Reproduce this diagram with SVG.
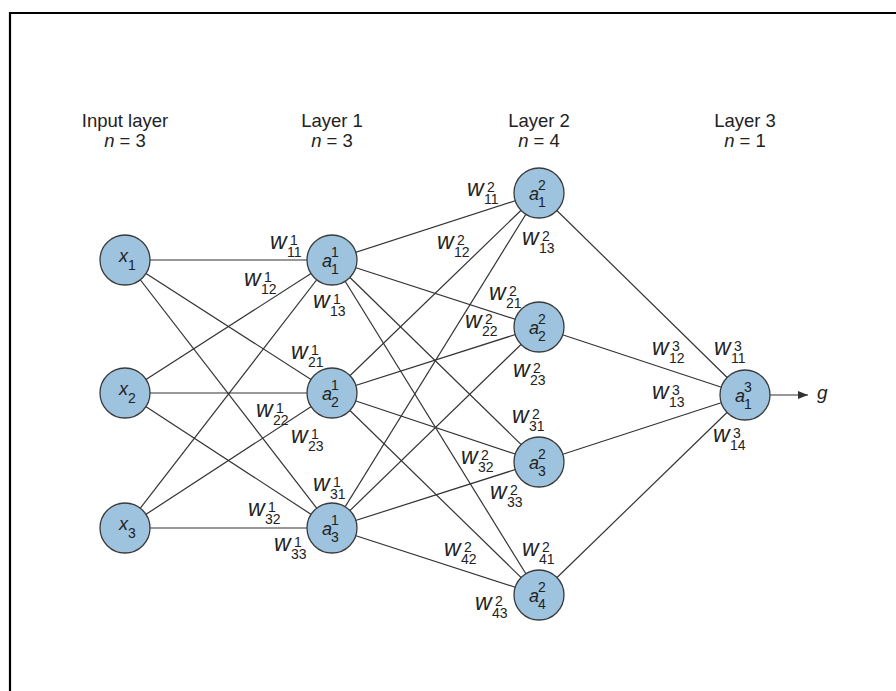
<svg xmlns="http://www.w3.org/2000/svg" width="896" height="691" viewBox="0 0 896 691">
  <style>
    .frame { fill: none; stroke: #000; stroke-width: 2.2; }
    .head { font-family: "Liberation Sans", Arial, sans-serif; font-size: 18.5px; fill: #222; text-anchor: middle; }
    .it { font-style: italic; }
    .node circle { fill: #9dc3de; stroke: #3a3a3a; stroke-width: 1.3; }
    .node text { font-family: "Liberation Sans", Arial, sans-serif; fill: #222; }
    .nl { font-size: 18px; font-style: italic; }
    .ns { font-size: 14px; }
    .edges line { stroke: #333; stroke-width: 1.2; }
    .wl { font-family: "Liberation Sans", Arial, sans-serif; fill: #222; }
    .w { font-size: 23px; font-style: italic; }
    .s { font-size: 14px; }
  </style>
  <defs>
    <marker id="arrow" viewBox="0 0 10 8" refX="10" refY="4" markerWidth="10" markerHeight="8" markerUnits="userSpaceOnUse" orient="auto">
      <path d="M0,0 L10,4 L0,8 Z" fill="#333"/>
    </marker>
  </defs>

  <rect width="896" height="691" fill="#fff"/>
  <path class="frame" d="M10,700 V13 H900"/>

  <!-- layer headings -->
  <g id="headings">
    <text class="head" x="125" y="127">Input layer</text>
    <text class="head" x="125" y="147"><tspan class="it">n</tspan> = 3</text>
    <text class="head" x="332" y="127">Layer 1</text>
    <text class="head" x="332" y="147"><tspan class="it">n</tspan> = 3</text>
    <text class="head" x="539" y="127">Layer 2</text>
    <text class="head" x="539" y="147"><tspan class="it">n</tspan> = 4</text>
    <text class="head" x="745" y="127">Layer 3</text>
    <text class="head" x="745" y="147"><tspan class="it">n</tspan> = 1</text>
  </g>

  <!-- connections -->
  <g id="edges" class="edges">
    <!-- input -> layer 1 -->
    <line x1="125" y1="260" x2="332" y2="260"/>
    <line x1="125" y1="260" x2="332" y2="393"/>
    <line x1="125" y1="260" x2="332" y2="528"/>
    <line x1="125" y1="393" x2="332" y2="260"/>
    <line x1="125" y1="393" x2="332" y2="393"/>
    <line x1="125" y1="393" x2="332" y2="528"/>
    <line x1="125" y1="528" x2="332" y2="260"/>
    <line x1="125" y1="528" x2="332" y2="393"/>
    <line x1="125" y1="528" x2="332" y2="528"/>
    <!-- layer 1 -> layer 2 -->
    <line x1="332" y1="260" x2="539" y2="193"/>
    <line x1="332" y1="260" x2="539" y2="327"/>
    <line x1="332" y1="260" x2="539" y2="462"/>
    <line x1="332" y1="260" x2="539" y2="595"/>
    <line x1="332" y1="393" x2="539" y2="193"/>
    <line x1="332" y1="393" x2="539" y2="327"/>
    <line x1="332" y1="393" x2="539" y2="462"/>
    <line x1="332" y1="393" x2="539" y2="595"/>
    <line x1="332" y1="528" x2="539" y2="193"/>
    <line x1="332" y1="528" x2="539" y2="327"/>
    <line x1="332" y1="528" x2="539" y2="462"/>
    <line x1="332" y1="528" x2="539" y2="595"/>
    <!-- layer 2 -> layer 3 -->
    <line x1="539" y1="193" x2="745" y2="395"/>
    <line x1="539" y1="327" x2="745" y2="395"/>
    <line x1="539" y1="462" x2="745" y2="395"/>
    <line x1="539" y1="595" x2="745" y2="395"/>
    <!-- output -->
    <line x1="770" y1="395" x2="808" y2="395" marker-end="url(#arrow)"/>
  </g>

  <!-- input nodes -->
  <g id="x1" class="node"><circle cx="125" cy="260" r="25"/>
    <text class="nl" x="119" y="262">x</text><text class="ns" x="128" y="270">1</text></g>
  <g id="x2" class="node"><circle cx="125" cy="393" r="25"/>
    <text class="nl" x="119" y="395">x</text><text class="ns" x="128" y="403">2</text></g>
  <g id="x3" class="node"><circle cx="125" cy="528" r="25"/>
    <text class="nl" x="119" y="530">x</text><text class="ns" x="128" y="538">3</text></g>

  <!-- layer 1 nodes -->
  <g id="a1_1" class="node"><circle cx="332" cy="260" r="25"/>
    <text class="nl" x="322" y="267">a</text><text class="ns" x="331" y="257">1</text><text class="ns" x="331" y="274">1</text></g>
  <g id="a1_2" class="node"><circle cx="332" cy="393" r="25"/>
    <text class="nl" x="322" y="400">a</text><text class="ns" x="331" y="390">1</text><text class="ns" x="331" y="407">2</text></g>
  <g id="a1_3" class="node"><circle cx="332" cy="528" r="25"/>
    <text class="nl" x="322" y="535">a</text><text class="ns" x="331" y="525">1</text><text class="ns" x="331" y="542">3</text></g>

  <!-- layer 2 nodes -->
  <g id="a2_1" class="node"><circle cx="539" cy="193" r="25"/>
    <text class="nl" x="529" y="200">a</text><text class="ns" x="538" y="190">2</text><text class="ns" x="538" y="207">1</text></g>
  <g id="a2_2" class="node"><circle cx="539" cy="327" r="25"/>
    <text class="nl" x="529" y="334">a</text><text class="ns" x="538" y="324">2</text><text class="ns" x="538" y="341">2</text></g>
  <g id="a2_3" class="node"><circle cx="539" cy="462" r="25"/>
    <text class="nl" x="529" y="469">a</text><text class="ns" x="538" y="459">2</text><text class="ns" x="538" y="476">3</text></g>
  <g id="a2_4" class="node"><circle cx="539" cy="595" r="25"/>
    <text class="nl" x="529" y="602">a</text><text class="ns" x="538" y="592">2</text><text class="ns" x="538" y="609">4</text></g>

  <!-- layer 3 node -->
  <g id="a3_1" class="node"><circle cx="745" cy="395" r="25"/>
    <text class="nl" x="735" y="402">a</text><text class="ns" x="744" y="392">3</text><text class="ns" x="744" y="409">1</text></g>

  <!-- output label -->
  <g id="g-out"><text class="wl" x="817" y="399" font-size="19" font-style="italic">g</text></g>

  <!-- weight labels: w, superscript layer, subscript indices -->
  <g id="weights">
    <text class="wl"><tspan class="w" x="270" y="249">w</tspan><tspan class="s" x="290" y="245">1</tspan><tspan class="s" x="287" y="257">11</tspan></text>
    <text class="wl"><tspan class="w" x="244" y="286">w</tspan><tspan class="s" x="264" y="282">1</tspan><tspan class="s" x="261" y="294">12</tspan></text>
    <text class="wl"><tspan class="w" x="313" y="308">w</tspan><tspan class="s" x="333" y="304">1</tspan><tspan class="s" x="330" y="316">13</tspan></text>
    <text class="wl"><tspan class="w" x="291" y="359">w</tspan><tspan class="s" x="311" y="355">1</tspan><tspan class="s" x="308" y="367">21</tspan></text>
    <text class="wl"><tspan class="w" x="256" y="417">w</tspan><tspan class="s" x="276" y="413">1</tspan><tspan class="s" x="273" y="425">22</tspan></text>
    <text class="wl"><tspan class="w" x="291" y="443">w</tspan><tspan class="s" x="311" y="439">1</tspan><tspan class="s" x="308" y="451">23</tspan></text>
    <text class="wl"><tspan class="w" x="313" y="491">w</tspan><tspan class="s" x="333" y="487">1</tspan><tspan class="s" x="330" y="499">31</tspan></text>
    <text class="wl"><tspan class="w" x="248" y="516">w</tspan><tspan class="s" x="268" y="512">1</tspan><tspan class="s" x="265" y="524">32</tspan></text>
    <text class="wl"><tspan class="w" x="274" y="551">w</tspan><tspan class="s" x="294" y="547">1</tspan><tspan class="s" x="291" y="559">33</tspan></text>

    <text class="wl"><tspan class="w" x="467" y="196">w</tspan><tspan class="s" x="487" y="192">2</tspan><tspan class="s" x="484" y="204">11</tspan></text>
    <text class="wl"><tspan class="w" x="437" y="249">w</tspan><tspan class="s" x="457" y="245">2</tspan><tspan class="s" x="454" y="257">12</tspan></text>
    <text class="wl"><tspan class="w" x="522" y="245">w</tspan><tspan class="s" x="542" y="241">2</tspan><tspan class="s" x="539" y="253">13</tspan></text>
    <text class="wl"><tspan class="w" x="489" y="300">w</tspan><tspan class="s" x="509" y="296">2</tspan><tspan class="s" x="506" y="308">21</tspan></text>
    <text class="wl"><tspan class="w" x="465" y="328">w</tspan><tspan class="s" x="485" y="324">2</tspan><tspan class="s" x="482" y="336">22</tspan></text>
    <text class="wl"><tspan class="w" x="513" y="377">w</tspan><tspan class="s" x="533" y="373">2</tspan><tspan class="s" x="530" y="385">23</tspan></text>
    <text class="wl"><tspan class="w" x="512" y="423">w</tspan><tspan class="s" x="532" y="419">2</tspan><tspan class="s" x="529" y="431">31</tspan></text>
    <text class="wl"><tspan class="w" x="461" y="464">w</tspan><tspan class="s" x="481" y="460">2</tspan><tspan class="s" x="478" y="472">32</tspan></text>
    <text class="wl"><tspan class="w" x="490" y="499">w</tspan><tspan class="s" x="510" y="495">2</tspan><tspan class="s" x="507" y="507">33</tspan></text>
    <text class="wl"><tspan class="w" x="444" y="556">w</tspan><tspan class="s" x="464" y="552">2</tspan><tspan class="s" x="461" y="564">42</tspan></text>
    <text class="wl"><tspan class="w" x="522" y="556">w</tspan><tspan class="s" x="542" y="552">2</tspan><tspan class="s" x="539" y="564">41</tspan></text>
    <text class="wl"><tspan class="w" x="475" y="610">w</tspan><tspan class="s" x="495" y="606">2</tspan><tspan class="s" x="492" y="618">43</tspan></text>

    <text class="wl"><tspan class="w" x="652" y="355">w</tspan><tspan class="s" x="672" y="351">3</tspan><tspan class="s" x="669" y="363">12</tspan></text>
    <text class="wl"><tspan class="w" x="714" y="355">w</tspan><tspan class="s" x="734" y="351">3</tspan><tspan class="s" x="731" y="363">11</tspan></text>
    <text class="wl"><tspan class="w" x="652" y="399">w</tspan><tspan class="s" x="672" y="395">3</tspan><tspan class="s" x="669" y="407">13</tspan></text>
    <text class="wl"><tspan class="w" x="713" y="442">w</tspan><tspan class="s" x="733" y="438">3</tspan><tspan class="s" x="730" y="450">14</tspan></text>
  </g>
</svg>
